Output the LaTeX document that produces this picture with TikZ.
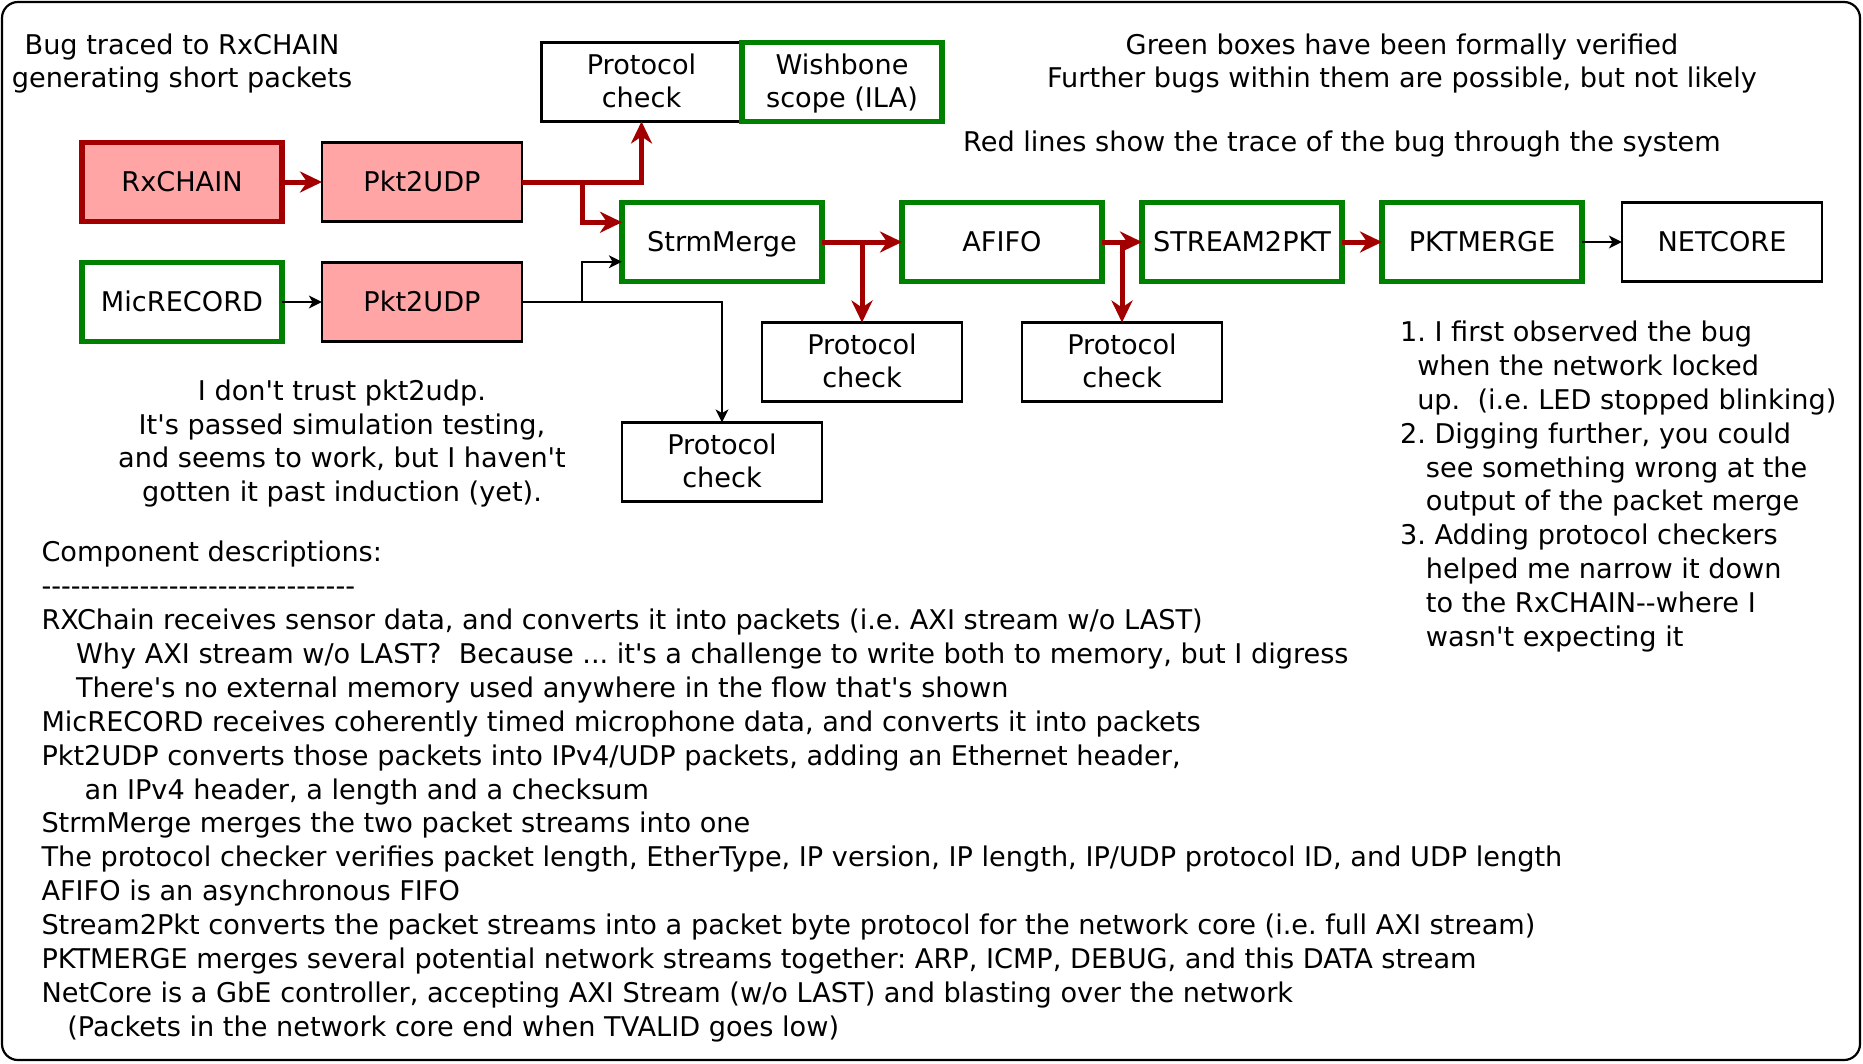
\documentclass[tikz,border=0pt]{standalone}
\usepackage{fontspec}
\setmainfont{DejaVu Sans}[Ligatures=TeXOff]
\usetikzlibrary{arrows.meta,calc}
\definecolor{bugred}{HTML}{A20000}
\definecolor{bugpink}{HTML}{FFA5A5}
\definecolor{okgreen}{HTML}{008000}
\newcommand\Tst{\rule[-7.95pt]{0pt}{33.9pt}}
\newcommand\ind[1]{\hspace*{#1\fontdimen2\font}}
\frenchspacing
\begin{document}
\begin{tikzpicture}[x=1pt,y=-1pt,
  every node/.style={font=\fontsize{27.15}{33.9}\selectfont, inner sep=0pt, outer sep=0pt},
  blk/.style={draw=black, line width=2.2pt, minimum width=200pt, minimum height=79pt},
  pinkblk/.style={blk, fill=bugpink},
  greenblk/.style={blk, draw=okgreen, line width=5.5pt},
  redblk/.style={blk, draw=bugred, fill=bugpink, line width=5.5pt},
  thinarrow/.style={draw=black, line width=2.2pt, -{Stealth[length=13pt,width=12.7pt,inset=3.5pt]}},
  trace/.style={draw=bugred, line width=5pt, -{Stealth[length=22pt,width=21pt,inset=7pt]}},
  note/.style={align=center},
]
\useasboundingbox (0,0) rectangle (1863,1063);
\draw[line width=2.2pt, rounded corners=16pt] (2,2) rectangle (1860,1060);

% blocks
\node[redblk] (rx) at (182,182) {\Tst RxCHAIN};
\node[pinkblk] (p1) at (422,182) {\Tst Pkt2UDP};
\node[greenblk] (mic) at (182,302) {\Tst MicRECORD};
\node[pinkblk] (p2) at (422,302) {\Tst Pkt2UDP};
\node[blk, align=center] (pc1) at (641.5,82) {\Tst Protocol\\check\Tst};
\node[greenblk, align=center] (wb) at (842,82) {\Tst Wishbone\\scope (ILA)\Tst};
\node[greenblk] (strm) at (722,242) {\Tst StrmMerge};
\node[greenblk] (afifo) at (1002,242) {\Tst AFIFO};
\node[greenblk] (s2p) at (1242,242) {\Tst STREAM2PKT};
\node[greenblk] (pkm) at (1482,242) {\Tst PKTMERGE};
\node[blk] (net) at (1722,242) {\Tst NETCORE};
\node[blk, align=center] (pc2) at (862,362) {\Tst Protocol\\check\Tst};
\node[blk, align=center] (pc3) at (1122,362) {\Tst Protocol\\check\Tst};
\node[blk, align=center] (pc4) at (722,462) {\Tst Protocol\\check\Tst};

\coordinate (smA) at ($(strm.north west)!0.25!(strm.south west)$);
\coordinate (smB) at ($(strm.north west)!0.75!(strm.south west)$);

% connectors
\draw[thinarrow] (mic) -- (p2);
\draw[thinarrow] (p2.east) -- ++(60,0) |- (smB);
\draw[thinarrow] (p2.east) -| (pc4.north);
\draw[thinarrow] (pkm) -- (net);
\draw[trace] (rx) -- (p1);
\draw[trace] (p1.east) -| (pc1.south);
\draw[trace] (p1.east) -- ++(60,0) |- (smA);
\draw[trace] (strm) -- (afifo);
\draw[trace] (strm.east) -| (pc2.north);
\draw[trace] (afifo) -- (s2p);
\draw[trace] (afifo.east) -| (pc3.north);
\draw[trace] (s2p) -- (pkm);

% notes
\node[note] (t1) at (182,62) {\Tst Bug traced to RxCHAIN\\generating short packets\Tst};
\node[note] (t2) at (1402,62) {\Tst Green boxes have been formally verified\\Further bugs within them are possible, but not likely\Tst};
\node (t3) at (1342,142) {\Tst Red lines show the trace of the bug through the system};
\node[note] (t4) at (342,442) {\Tst I don't trust pkt2udp.\\It's passed simulation testing,\\and seems to work, but I haven't\\gotten it past induction (yet).\Tst};
\node[align=left, anchor=west] (t5) at (1400,485) {\Tst 1. I first observed the bug\\
\ind{2}when the network locked\\
\ind{2}up.\ \ (i.e. LED stopped blinking)\\
2. Digging further, you could\\
\ind{3}see something wrong at the\\
\ind{3}output of the packet merge\\
3. Adding protocol checkers\\
\ind{3}helped me narrow it down\\
\ind{3}to the RxCHAIN--where I\\
\ind{3}wasn't expecting it\Tst};
\node[align=left, anchor=west] (t6) at (41.5,790) {\Tst Component descriptions:\\
--------------------------------\\
RXChain receives sensor data, and converts it into packets (i.e. AXI stream w/o LAST)\\
\ind{4}Why AXI stream w/o LAST?\ \ Because ... it's a challenge to write both to memory, but I digress\\
\ind{4}There's no external memory used anywhere in the flow that's shown\\
MicRECORD receives coherently timed microphone data, and converts it into packets\\
Pkt2UDP converts those packets into IPv4/UDP packets, adding an Ethernet header,\\
\ind{5}an IPv4 header, a length and a checksum\\
StrmMerge merges the two packet streams into one\\
The protocol checker verifies packet length, EtherType, IP version, IP length, IP/UDP protocol ID, and UDP length\\
AFIFO is an asynchronous FIFO\\
Stream2Pkt converts the packet streams into a packet byte protocol for the network core (i.e. full AXI stream)\\
PKTMERGE merges several potential network streams together: ARP, ICMP, DEBUG, and this DATA stream\\
NetCore is a GbE controller, accepting AXI Stream (w/o LAST) and blasting over the network\\
\ind{3}(Packets in the network core end when TVALID goes low)\Tst};
\end{tikzpicture}
\end{document}
